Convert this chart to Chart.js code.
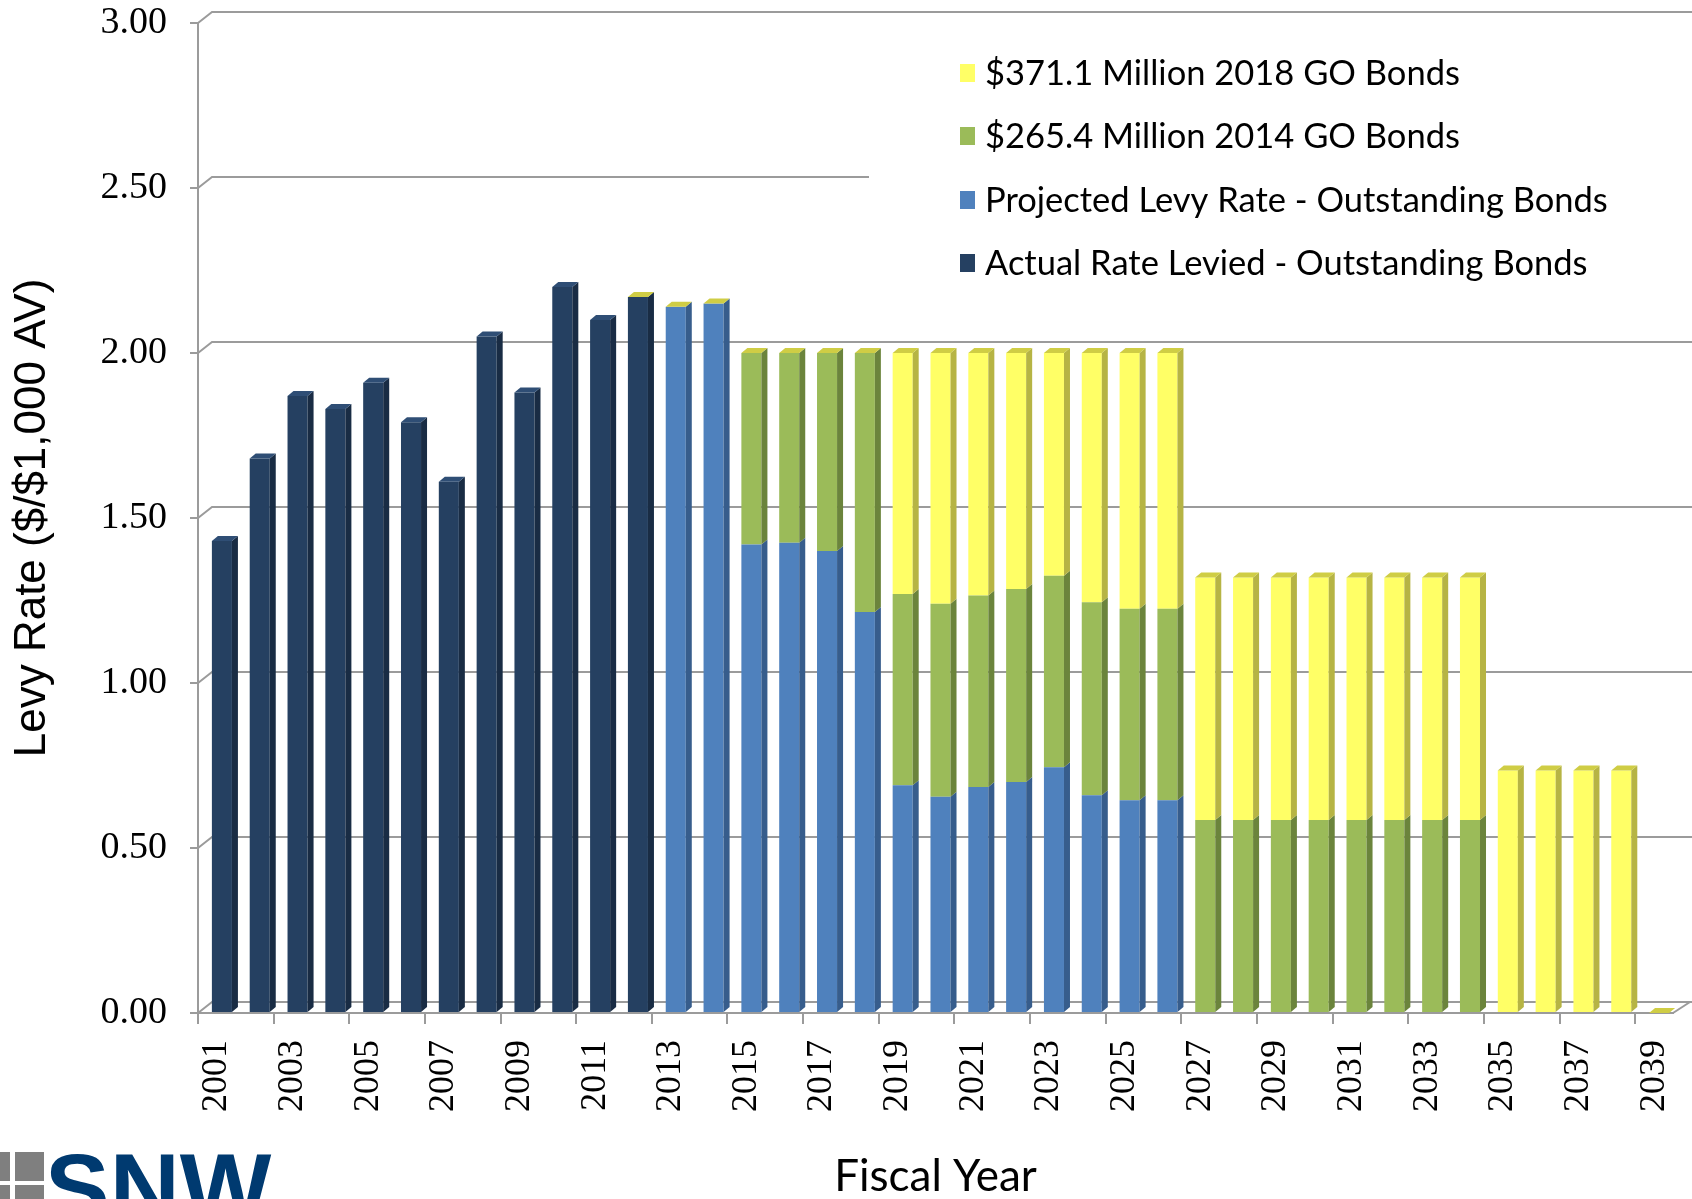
<!DOCTYPE html>
<html>
<head>
<meta charset="utf-8">
<script src="https://cdn.jsdelivr.net/npm/chart.js@4.4.1/dist/chart.umd.min.js"></script>
<style>
html,body{margin:0;padding:0;background:#ffffff;}
#wrap{width:1692px;height:1199px;position:relative;overflow:hidden;}
</style>
</head>
<body>
<div id="wrap"><canvas id="c" width="1692" height="1199"></canvas></div>
<script>
// ---------------- data ----------------
const years = ['2001','2002','2003','2004','2005','2006','2007','2008','2009','2010',
  '2011','2012','2013','2014','2015','2016','2017','2018','2019','2020',
  '2021','2022','2023','2024','2025','2026','2027','2028','2029','2030',
  '2031','2032','2033','2034','2035','2036','2037','2038','2039'];

const actualLevied = [1.43,1.68,1.87,1.83,1.91,1.79,1.61,2.05,1.88,2.20,2.10,2.17,
  null,null,null,null,null,null,null,null,null,null,null,null,null,null,
  null,null,null,null,null,null,null,null,null,null,null,null,null];

const projectedOutstanding = [null,null,null,null,null,null,null,null,null,null,null,null,
  2.14,2.15,1.42,1.425,1.40,1.215,0.69,0.655,0.685,0.70,0.745,0.66,0.645,0.645,
  null,null,null,null,null,null,null,null,null,null,null,null,null];

const goBonds2014 = [null,null,null,null,null,null,null,null,null,null,null,null,null,null,
  0.58,0.575,0.60,0.785,0.58,0.585,0.58,0.585,0.58,0.585,0.58,0.58,
  0.585,0.585,0.585,0.585,0.585,0.585,0.585,0.585,null,null,null,null,null];

const goBonds2018 = [null,null,null,null,null,null,null,null,null,null,null,
  0,0,0,0,0,0,0,
  0.73,0.76,0.735,0.715,0.675,0.755,0.775,0.775,
  0.735,0.735,0.735,0.735,0.735,0.735,0.735,0.735,0.735,0.735,0.735,0.735,0];

const seriesNames = ['Actual Rate Levied - Outstanding Bonds',
  'Projected Levy Rate - Outstanding Bonds',
  '$265.4 Million 2014 GO Bonds',
  '$371.1 Million 2018 GO Bonds'];

const yTickValues = [0, 0.5, 1.0, 1.5, 2.0, 2.5, 3.0];
const yTitle = 'Levy Rate ($/$1,000 AV)';
const xTitle = 'Fiscal Year';
const logoText = 'SNW';

// ---------------- styles ----------------
const WALL = {dx: 14, dy: 11};
const BAR3D = {dx: 6, dy: 5};
const BAR_SHIFT = 5;
const GRID_COLOR = '#9b9b9b';

const styles = [
  {face: '#254061', side: '#192c44', top: '#2f4e75'},
  {face: '#4f81bd', side: '#375d8c', top: '#6f98cc'},
  {face: '#9bbb59', side: '#6b843c', top: '#b5cc80'},
  {face: '#ffff66', side: '#b6b444', top: '#cfcd45'}
];

const seriesData = [actualLevied, projectedOutstanding, goBonds2014, goBonds2018];

const datasets = seriesData.map((d, i) => ({
  label: seriesNames[i],
  data: d,
  backgroundColor: styles[i].face,
  sideColor: styles[i].side,
  topColor: styles[i].top,
  borderWidth: 0,
  stack: 's',
  barPercentage: 0.53,
  categoryPercentage: 1.0
}));

// ---------------- plugins ----------------
const wallPlugin = {
  id: 'wall3d',
  beforeDatasetsDraw(chart) {
    const ctx = chart.ctx;
    const ys = chart.scales.y;
    const ca = chart.chartArea;
    ctx.save();
    ctx.strokeStyle = GRID_COLOR;
    ctx.lineWidth = 2;
    yTickValues.forEach(v => {
      const yF = ys.getPixelForValue(v);
      ctx.beginPath();
      ctx.moveTo(ca.left, yF);
      ctx.lineTo(ca.left + WALL.dx, yF - WALL.dy);
      ctx.lineTo(ca.right + WALL.dx + 5, yF - WALL.dy);
      ctx.stroke();
    });
    const y0 = ys.getPixelForValue(0);
    ctx.beginPath();
    ctx.moveTo(ca.right, y0);
    ctx.lineTo(ca.right + WALL.dx + 3, y0 - WALL.dy);
    ctx.stroke();
    ctx.restore();
  }
};

const bar3dPlugin = {
  id: 'bar3d',
  beforeDatasetsDraw(chart) {
    // bars stand in the middle of the 3D depth: shift them slightly back/right
    chart.ctx.save();
    chart.ctx.translate(BAR_SHIFT, 0);
  },
  afterDatasetsDraw(chart) {
    const ctx = chart.ctx;
    const n = chart.data.labels.length;
    chart.data.datasets.forEach((ds, di) => {
      const meta = chart.getDatasetMeta(di);
      meta.data.forEach((el, i) => {
        if (ds.data[i] === null || ds.data[i] === undefined) return;
        const p = el.getProps(['x', 'y', 'base', 'width'], true);
        const xr = p.x + p.width / 2;
        const top = Math.min(p.y, p.base), bot = Math.max(p.y, p.base);
        if (bot - top <= 0) return;
        ctx.fillStyle = ds.sideColor;
        ctx.beginPath();
        ctx.moveTo(xr, top);
        ctx.lineTo(xr + BAR3D.dx, top - BAR3D.dy);
        ctx.lineTo(xr + BAR3D.dx, bot - BAR3D.dy);
        ctx.lineTo(xr, bot);
        ctx.closePath();
        ctx.fill();
      });
    });
    for (let i = 0; i < n; i++) {
      let topDi = -1;
      chart.data.datasets.forEach((ds, di) => {
        if (ds.data[i] !== null && ds.data[i] !== undefined) topDi = di;
      });
      if (topDi < 0) continue;
      const ds = chart.data.datasets[topDi];
      const el = chart.getDatasetMeta(topDi).data[i];
      const p = el.getProps(['x', 'y', 'base', 'width'], true);
      const xl = p.x - p.width / 2, xr = p.x + p.width / 2;
      const top = Math.min(p.y, p.base);
      ctx.fillStyle = ds.topColor;
      ctx.beginPath();
      ctx.moveTo(xl, top);
      ctx.lineTo(xr, top);
      ctx.lineTo(xr + BAR3D.dx, top - BAR3D.dy);
      ctx.lineTo(xl + BAR3D.dx, top - BAR3D.dy);
      ctx.closePath();
      ctx.fill();
    }
    ctx.restore();
  }
};

const legendPlugin = {
  id: 'customLegend',
  afterDraw(chart) {
    const ctx = chart.ctx;
    ctx.save();
    ctx.fillStyle = '#ffffff';
    ctx.fillRect(869, 32, 823, 268);
    const items = chart.data.datasets.slice().reverse();
    const rowY = [73, 136, 200, 263];
    ctx.font = '34.5px Lato';
    ctx.textBaseline = 'middle';
    ctx.textAlign = 'left';
    items.forEach((ds, k) => {
      const y = rowY[k];
      ctx.fillStyle = ds.backgroundColor;
      ctx.fillRect(960, y - 9, 15, 18);
      ctx.fillStyle = '#000000';
      ctx.fillText(ds.label, 985, y + 1);
    });
    ctx.restore();
  }
};

const logoPlugin = {
  id: 'logo',
  afterDraw(chart) {
    const ctx = chart.ctx;
    ctx.save();
    ctx.fillStyle = '#7f7f7f';
    ctx.fillRect(0, 1152, 10, 29);
    ctx.fillRect(15, 1152, 29, 29);
    ctx.fillRect(0, 1185, 10, 20);
    ctx.fillRect(15, 1185, 29, 20);
    ctx.fillStyle = '#003a70';
    ctx.font = 'bold 97px "Liberation Sans"';
    ctx.textBaseline = 'alphabetic';
    ctx.textAlign = 'left';
    ctx.fillText(logoText, 45, 1221);
    ctx.restore();
  }
};

// ---------------- chart ----------------
new Chart(document.getElementById('c'), {
  type: 'bar',
  data: { labels: years, datasets: datasets },
  options: {
    responsive: false,
    animation: false,
    devicePixelRatio: 1,
    layout: { padding: { left: 0, top: 23, right: 19, bottom: 0 } },
    plugins: { legend: { display: false }, tooltip: { enabled: false } },
    scales: {
      x: {
        stacked: true,
        offset: true,
        ticks: {
          autoSkip: false, maxRotation: 90, minRotation: 90, padding: 16,
          color: '#000000',
          font: { family: '"Liberation Serif"', size: 36 },
          callback: function (v, i) { return i % 2 === 0 ? this.getLabelForValue(v) : ''; }
        },
        grid: {
          offset: true, drawOnChartArea: false, drawTicks: true, tickLength: 11,
          lineWidth: 2,
          color: c => (c.index !== undefined && c.index % 2 === 0) ? GRID_COLOR : 'rgba(0,0,0,0)'
        },
        border: { display: true, color: GRID_COLOR, width: 2 },
        title: {
          display: true, text: xTitle, color: '#000000',
          font: { family: 'Lato', size: 44, lineHeight: 1.0 },
          padding: { top: 0, bottom: 0 }
        },
        afterFit(s) { s.height = 186; s.paddingLeft = 0; s.paddingRight = 0; }
      },
      y: {
        stacked: true,
        min: 0, max: 3,
        ticks: {
          stepSize: 0.5, padding: 23, color: '#000000',
          font: { family: '"Liberation Serif"', size: 38 },
          callback: v => Number(v).toFixed(2)
        },
        grid: { drawOnChartArea: false, drawTicks: true, tickLength: 8, color: GRID_COLOR, lineWidth: 2 },
        border: { display: true, color: GRID_COLOR, width: 2 },
        title: {
          display: true, text: yTitle, color: '#000000',
          font: { family: '"Liberation Sans"', size: 44, lineHeight: 1.2 },
          padding: { top: 6, bottom: 0 }
        },
        afterFit(s) { s.width = 198; s.paddingTop = 0; s.paddingBottom = 0; }
      }
    }
  },
  plugins: [wallPlugin, bar3dPlugin, legendPlugin, logoPlugin]
});
</script>
</body>
</html>
